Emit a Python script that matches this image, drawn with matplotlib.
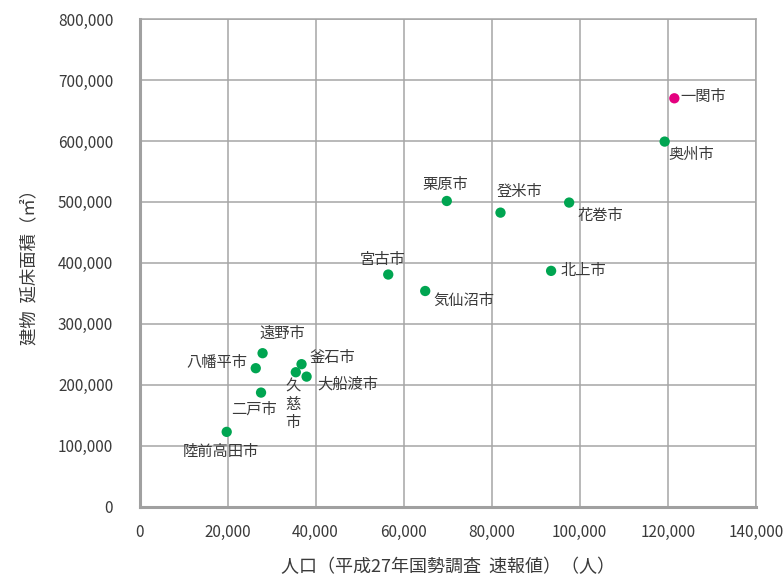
import matplotlib
matplotlib.use("Agg")
import matplotlib.pyplot as plt
from matplotlib.ticker import FuncFormatter

plt.rcParams['font.family'] = ['Noto Sans CJK JP', 'DejaVu Sans']

cities = ['一関市', '奥州市', '花巻市', '北上市', '登米市', '栗原市', '宮古市', '気仙沼市',
          '遠野市', '八幡平市', '釜石市', '久慈市', '大船渡市', '二戸市', '陸前高田市']
population = [121500, 119300, 97600, 93500, 82000, 69800, 56500, 64900,
              27950, 26400, 36800, 35500, 37950, 27600, 19800]
floor_area = [670000, 599000, 499000, 387000, 482500, 501600, 381000, 354000,
              252000, 227400, 234000, 220800, 213600, 187400, 123000]
highlight = ['一関市']

x_ticks = [0, 20000, 40000, 60000, 80000, 100000, 120000, 140000]
y_ticks = [0, 100000, 200000, 300000, 400000, 500000, 600000, 700000, 800000]

# label offsets in points (dx, dy) and alignment
label_style = {
    '一関市': (4, 1, 'left', 'center'),
    '奥州市': (3, -9, 'left', 'center'),
    '花巻市': (6, -9, 'left', 'center'),
    '北上市': (7, 0, 'left', 'center'),
    '登米市': (14, 15, 'center', 'center'),
    '栗原市': (-1, 12, 'center', 'center'),
    '宮古市': (-4, 11, 'center', 'center'),
    '気仙沼市': (6, -7, 'left', 'center'),
    '遠野市': (14, 14, 'center', 'center'),
    '八幡平市': (-6, 4, 'right', 'center'),
    '釜石市': (6, 5, 'left', 'center'),
    '大船渡市': (8, -5, 'left', 'center'),
    '二戸市': (-5, -12, 'center', 'center'),
    '陸前高田市': (-4, -14, 'center', 'center'),
}

fig = plt.figure(figsize=(7.84, 5.76), dpi=100)
ax = fig.add_axes([0.178, 0.12, 0.786, 0.847])

green = '#00a551'
magenta = '#e4007f'
colors = [magenta if c in highlight else green for c in cities]
ax.scatter(population, floor_area, s=55, c=colors, zorder=3, linewidths=0)

txt_color = '#3a3a3a'
for c, xv, yv in zip(cities, population, floor_area):
    if c == '久慈市':
        ax.annotate('久\n慈\n市', (xv, yv), xytext=(-2, -4), textcoords='offset points',
                    ha='center', va='top', fontsize=11, color=txt_color,
                    linespacing=1.1, zorder=4)
        continue
    dx, dy, ha, va = label_style[c]
    ax.annotate(c, (xv, yv), xytext=(dx, dy), textcoords='offset points',
                ha=ha, va=va, fontsize=11, color=txt_color, zorder=4)

ax.set_xlim(0, 140000)
ax.set_ylim(0, 800000)
ax.set_xticks(x_ticks)
ax.set_yticks(y_ticks)
fmt = FuncFormatter(lambda v, p: f'{int(v):,}')
ax.xaxis.set_major_formatter(fmt)
ax.yaxis.set_major_formatter(fmt)

ax.grid(True, color='#a6a6a6', linewidth=1.1, zorder=0)
ax.set_axisbelow(True)
for side in ['top', 'right']:
    ax.spines[side].set_color('#a6a6a6')
    ax.spines[side].set_linewidth(1.1)
for side in ['left', 'bottom']:
    ax.spines[side].set_color('#a0a0a0')
    ax.spines[side].set_linewidth(2.2)

ax.tick_params(axis='both', length=0, labelsize=11, labelcolor=txt_color)
ax.tick_params(axis='x', pad=12)
ax.tick_params(axis='y', pad=19)

ax.set_xlabel('人口（平成27年国勢調査  速報値）（人）', fontsize=13, color=txt_color, labelpad=13)
ax.set_ylabel('建物  延床面積（㎡）', fontsize=12.5, color=txt_color, labelpad=14)

fig.savefig('out.png', dpi=100, facecolor='white')
